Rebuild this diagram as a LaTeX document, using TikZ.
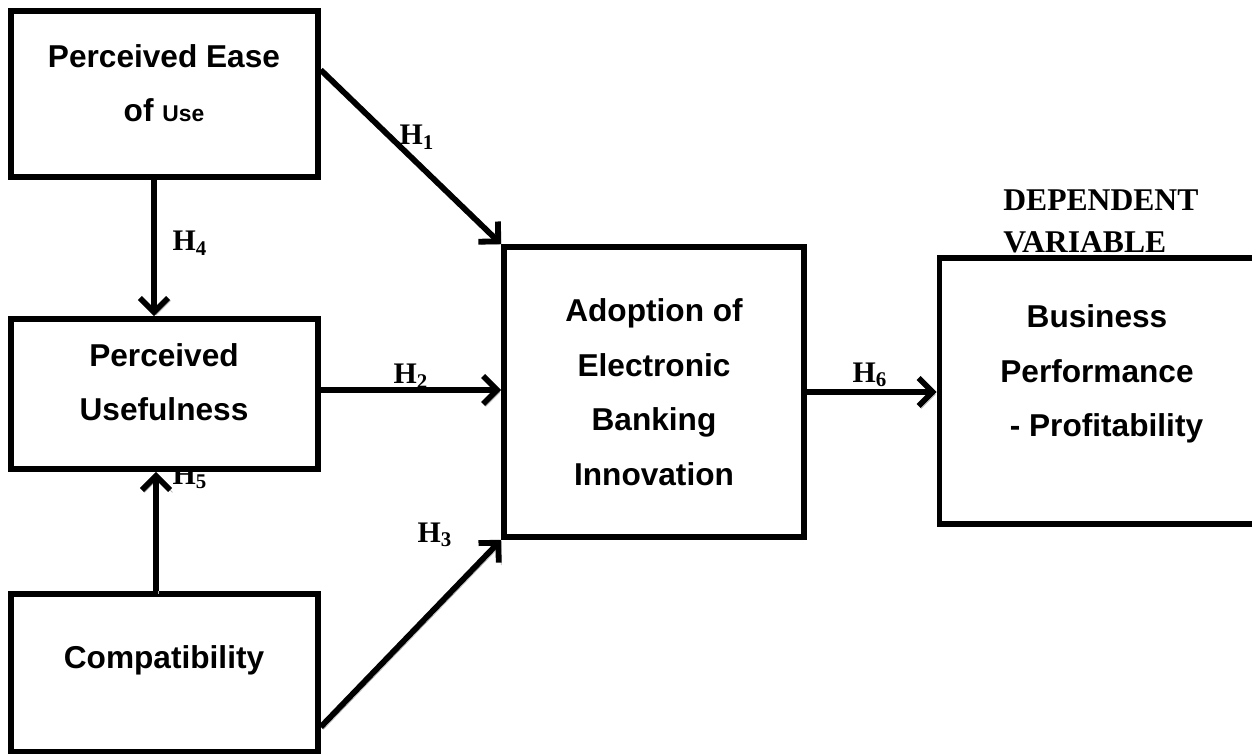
\documentclass[tikz,border=0pt]{standalone}
\usepackage{fontspec}
\setmainfont{Liberation Serif}
\newfontfamily\boxfont{Liberation Sans}
\usetikzlibrary{arrows.meta}
\usetikzlibrary{positioning, calc}

\tikzset{
  var/.style={draw, line width=3.2pt, fill=white, inner sep=0pt},
  vartext/.style={font=\boxfont\bfseries\fontsize{18}{31}\selectfont, align=center},
  hyp/.style={font=\bfseries\fontsize{17}{20}\selectfont, inner sep=1pt},
  link/.style={line width=3.3pt,
    -{Straight Barb[length=8pt,width=16pt]},
    preaction={draw=gray!60, transform canvas={xshift=1.4pt,yshift=-1.4pt}}}
}

\begin{document}
\begin{tikzpicture}[x=0.02cm, y=-0.02cm]
\clip (0,0) rectangle (1252,754);

\node[hyp] (h5) at (190,477) {H\textsubscript{5}};

\node[var, minimum width=6.14cm, minimum height=3.32cm] (ease) at (164.5,94) {};
\node[var, minimum width=6.14cm, minimum height=3cm] (useful) at (164.5,394) {};
\node[var, minimum width=6.14cm, minimum height=3.16cm] (compat) at (164.5,673) {};
\node[var, minimum width=6cm, minimum height=5.8cm] (adopt) at (654,392) {};
\node[var, minimum width=6.3cm, minimum height=5.32cm] (perf) at (1097,391) {};

\node[vartext] (ease-txt) at (164,83) {Perceived Ease\\of {\fontsize{13}{31}\selectfont Use}};
\node[vartext] (useful-txt) at (164,382) {Perceived\\Usefulness};
\node[vartext] (compat-txt) at (164,660) {Compatibility};
\node[vartext] (adopt-txt) at (654,392) {Adoption of\\Electronic\\Banking\\Innovation};
\node[vartext] (perf-txt) at (1097,374) {Business\\Performance\\\hspace*{0.6em}- Profitability};

\node[font=\bfseries\fontsize{18}{24}\selectfont, align=left, anchor=west, inner sep=0pt]
  (dep) at (1003,221) {DEPENDENT\\VARIABLE};

\draw[link] ($(ease.north east)!.36!(ease.south east)$) -- (adopt.north west);
\draw[link] ([yshift=.08cm]useful.east) -- ([yshift=.08cm]useful.east -| adopt.west);
\draw[link] ($(compat.north east)!.83!(compat.south east)$) -- (adopt.south west);
\draw[link] ([xshift=-.21cm]ease.south) -- ([xshift=-.21cm]useful.north);
\draw[link] ([xshift=-.17cm]compat.north) -- ([xshift=-.17cm]useful.south);
\draw[link] (adopt.east) -- (adopt.east -| perf.west);

\node[hyp] (h1) at (417,137) {H\textsubscript{1}};
\node[hyp] (h2) at (411,376) {H\textsubscript{2}};
\node[hyp] (h3) at (435,535) {H\textsubscript{3}};
\node[hyp] (h4) at (190,243) {H\textsubscript{4}};
\node[hyp] (h6) at (870,375) {H\textsubscript{6}};
\end{tikzpicture}
\end{document}
